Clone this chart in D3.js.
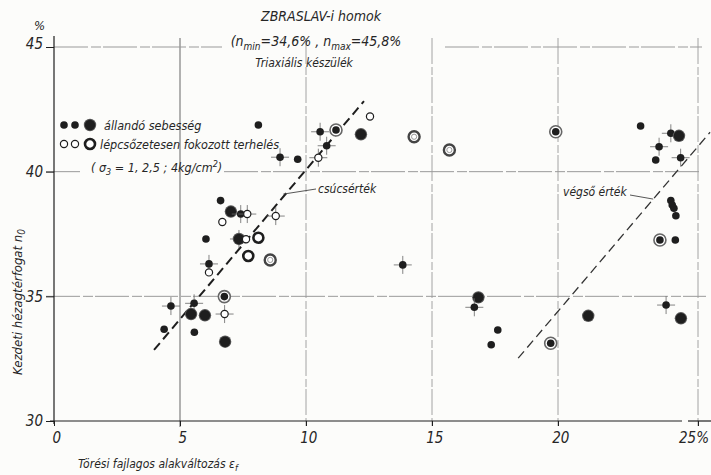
<!DOCTYPE html>
<html>
<head>
<meta charset="utf-8">
<script src="https://cdn.jsdelivr.net/npm/d3@7"></script>
<style>
  body { margin: 0; background: #fcfcfa; }
  svg text { font-family: "DejaVu Sans", sans-serif; font-stretch: condensed; font-style: italic; fill: #262626; }
</style>
</head>
<body>
<svg id="chart" width="711" height="475"></svg>
<script>
// tick values
var xTicks = [0, 5, 10, 15, 20, 25];
var yTicks = [30, 35, 40, 45];
var xGrid = [5, 10, 15, 20, 25];
var yGrid = [35, 40, 45];

// measured points: strain (%), initial porosity (%), marker kind, error cross
// kinds: s = small filled, l = large filled, o = small open, O = thick open ring,
//        R = double grey ring, d = ring with filled centre
var pointX = [6.61, 7.02, 7.41, 7.67, 6.68, 8.80, 6.03, 7.34, 7.62, 8.11, 7.71, 8.58, 6.15, 6.15,
              6.76, 4.64, 5.56, 5.44, 5.99, 6.77, 4.37, 5.57, 6.79, 8.11, 10.56, 11.19, 12.54, 12.18,
              14.29, 15.69, 10.82, 8.97, 9.67, 10.49, 19.91, 22.95, 24.03, 24.32, 23.61, 23.49, 24.38,
              24.03, 24.08, 24.14, 24.21, 23.64, 24.19, 16.84, 16.68, 17.61, 17.35, 19.71, 21.08, 23.86,
              24.39, 13.84];
var pointY = [38.84, 38.40, 38.30, 38.30, 37.98, 38.22, 37.30, 37.30, 37.29, 37.35, 36.62, 36.46, 36.30, 35.96,
              34.99, 34.61, 34.72, 34.29, 34.24, 34.29, 33.68, 33.56, 33.18, 41.87, 41.60, 41.67, 42.21, 41.50,
              41.40, 40.87, 41.04, 40.58, 40.50, 40.56, 41.60, 41.83, 41.54, 41.44, 41.00, 40.47, 40.56,
              38.84, 38.66, 38.53, 38.23, 37.26, 37.26, 34.96, 34.56, 33.65, 33.06, 33.12, 34.22, 34.65,
              34.12, 36.26];
var pointKind = ["s", "l", "s", "o", "o", "o", "s", "l", "o", "O", "O", "R", "s", "o",
                 "d", "s", "s", "l", "l", "o", "s", "s", "l", "s", "s", "d", "o", "l",
                 "R", "R", "s", "s", "s", "o", "d", "s", "s", "l", "s", "s", "s",
                 "s", "s", "s", "s", "d", "s", "l", "s", "s", "s", "d", "l", "s",
                 "l", "s"];
var pointCross = [0, 0, 1, 1, 0, 1, 0, 1, 0, 0, 0, 0, 1, 0,
                  0, 1, 1, 0, 0, 1, 0, 0, 0, 0, 1, 0, 0, 0,
                  0, 0, 1, 1, 0, 1, 0, 0, 1, 0, 1, 0, 1,
                  0, 0, 0, 0, 0, 0, 0, 1, 0, 0, 0, 0, 1,
                  0, 1];

// dashed trend lines
var peakLine = [[3.97, 32.85], [12.3, 42.83]];
var finalLine = [[18.42, 32.52], [25.43, 41.58]];

// legend rows
var legendFilled = ["s", "s", "l"];
var legendOpen = ["o", "o", "O"];

var svg = d3.select("#chart");
var ink = "#1e1e1e";
var grid = "#9a9a9a";

// hand drawn axis: last 5% interval is a bit wider on the sheet
var x = d3.scaleLinear().domain([0, 20, 25]).range([54, 558, 698]);
var y = d3.scaleLinear().domain([30, 45]).range([421, 47]);

// gridlines
var g = svg.append("g");
xGrid.forEach(function (d) {
    g.append("line")
        .attr("x1", x(d)).attr("x2", x(d))
        .attr("y1", 38).attr("y2", 427)
        .attr("stroke", d === 5 ? "#666" : grid)
        .attr("stroke-width", d === 5 ? 1 : 0.9)
        .attr("stroke-dasharray", d === 5 ? null : "26,3,8,2");
});
// gaps where text sits on the line
var gridSpans = {45: [[54, 222], [445, 702]], 40: [[46, 80], [224, 702]], 35: [[46, 706]]};
yGrid.forEach(function (d) {
    gridSpans[d].forEach(function (s) {
        g.append("line")
            .attr("x1", s[0]).attr("x2", s[1])
            .attr("y1", y(d)).attr("y2", y(d))
            .attr("stroke", grid)
            .attr("stroke-width", 1)
            .attr("stroke-dasharray", "34,3,10,2");
    });
});

// axes
svg.append("line").attr("x1", 54).attr("x2", 54).attr("y1", 36).attr("y2", 424)
    .attr("stroke", ink).attr("stroke-width", 1.2);
svg.append("line").attr("x1", 50).attr("x2", 682).attr("y1", y(30)).attr("y2", y(30))
    .attr("stroke", ink).attr("stroke-width", 1.2);
svg.append("line").attr("x1", 688).attr("x2", 711).attr("y1", y(30)).attr("y2", y(30))
    .attr("stroke", ink).attr("stroke-width", 1.2);

var xAxis = d3.axisBottom(x).tickValues(xTicks)
    .tickFormat(function (d) { return d === 25 ? "25%" : d; })
    .tickSize(5).tickPadding(6);
var xa = svg.append("g").attr("transform", "translate(0," + y(30) + ")").call(xAxis);
xa.select(".domain").remove();
xa.selectAll("line").attr("stroke", ink);
xa.selectAll("text").style("font-size", "15px")
    .attr("text-anchor", function (d) { return d === 25 ? "end" : "middle"; })
    .attr("dx", function (d) { return d === 25 ? "0.7em" : "0.15em"; });

var yAxis = d3.axisLeft(y).tickValues(yTicks).tickSize(8).tickPadding(3);
var ya = svg.append("g").attr("transform", "translate(54,0)").call(yAxis);
ya.select(".domain").remove();
ya.selectAll("line").attr("stroke", ink);
ya.selectAll("text").style("font-size", "15px")
    .attr("dy", function (d) { return d === 45 ? "0.1em" : "0.32em"; });
svg.append("text").attr("x", 45).attr("y", 30).attr("text-anchor", "end")
    .style("font-size", "13px").text("%");

// axis titles
var xt = svg.append("text").attr("x", 78).attr("y", 468).style("font-size", "12px")
    .text("Törési fajlagos alakváltozás ε");
xt.append("tspan").attr("dy", 3).style("font-size", "9px").text("f");

var yt = svg.append("text")
    .attr("transform", "translate(22,302) rotate(-90)")
    .attr("text-anchor", "middle").style("font-size", "13px")
    .text("Kezdeti hézagtérfogat n");
yt.append("tspan").attr("dy", 3).style("font-size", "10px").text("0");

// title block
svg.append("text").attr("x", 321).attr("y", 21).attr("text-anchor", "middle")
    .style("font-size", "14px").text("ZBRASLAV-i homok");
var t2 = svg.append("text").attr("x", 316).attr("y", 46).attr("text-anchor", "middle")
    .style("font-size", "14px");
t2.append("tspan").text("(n");
t2.append("tspan").attr("dy", 4).style("font-size", "10px").text("min");
t2.append("tspan").attr("dy", -4).text("=34,6% ,  n");
t2.append("tspan").attr("dy", 4).style("font-size", "10px").text("max");
t2.append("tspan").attr("dy", -4).text("=45,8%");
svg.append("text").attr("x", 304).attr("y", 67).attr("text-anchor", "middle")
    .style("font-size", "12px").text("Triaxiális készülék");

// trend lines
var line = d3.line().x(function (d) { return x(d[0]); }).y(function (d) { return y(d[1]); });
svg.append("path").attr("d", line(peakLine)).attr("fill", "none")
    .attr("stroke", ink).attr("stroke-width", 2).attr("stroke-dasharray", "9,5");
svg.append("path").attr("d", line(finalLine)).attr("fill", "none")
    .attr("stroke", "#333").attr("stroke-width", 1.3).attr("stroke-dasharray", "9,5");

// line labels with leaders
svg.append("path").attr("d", "M" + x(9.1) + "," + y(39.1) + " L316," + 189)
    .attr("stroke", "#444").attr("stroke-width", 0.9).attr("fill", "none");
svg.append("text").attr("x", 318).attr("y", 193).style("font-size", "12px").text("csúcsérték");
svg.append("path").attr("d", "M630,195 L" + x(23.4) + "," + y(38.9))
    .attr("stroke", "#444").attr("stroke-width", 0.9).attr("fill", "none");
svg.append("text").attr("x", 563).attr("y", 196).style("font-size", "12px").text("végső érték");

// markers
function drawMarker(sel, kind) {
    if (kind === "s") {
        sel.append("circle").attr("r", 3.8).attr("fill", ink);
    } else if (kind === "l") {
        sel.append("circle").attr("r", 6.2).attr("fill", "#555");
        sel.append("circle").attr("r", 5.2).attr("fill", ink);
    } else if (kind === "o") {
        sel.append("circle").attr("r", 3.6).attr("fill", "#fff").attr("stroke", ink).attr("stroke-width", 1.2);
    } else if (kind === "O") {
        sel.append("circle").attr("r", 5).attr("fill", "#fff").attr("stroke", ink).attr("stroke-width", 2.6);
    } else if (kind === "R") {
        sel.append("circle").attr("r", 5.5).attr("fill", "#fff").attr("stroke", "#444").attr("stroke-width", 2.4);
        sel.append("circle").attr("r", 2.6).attr("fill", "#fff").attr("stroke", "#999").attr("stroke-width", 1);
    } else if (kind === "d") {
        sel.append("circle").attr("r", 6).attr("fill", "#fff").attr("stroke", "#666").attr("stroke-width", 1.6);
        sel.append("circle").attr("r", 3.8).attr("fill", ink);
    }
}

var points = pointX.map(function (d, i) {
    return {x: d, y: pointY[i], kind: pointKind[i], cross: pointCross[i]};
});

var pts = svg.append("g").selectAll("g")
    .data(points)
    .enter()
    .append("g")
    .attr("transform", function (d) { return "translate(" + x(d.x) + "," + y(d.y) + ")"; });

pts.filter(function (d) { return d.cross; }).each(function () {
    var s = d3.select(this);
    s.append("line").attr("x1", -9).attr("x2", 9).attr("stroke", "#666").attr("stroke-width", 0.8);
    s.append("line").attr("y1", -9).attr("y2", 9).attr("stroke", "#666").attr("stroke-width", 0.8);
});
pts.each(function (d) { drawMarker(d3.select(this), d.kind); });

// legend
var legX = [64, 75, 90];
legendFilled.forEach(function (k, i) {
    drawMarker(svg.append("g").attr("transform", "translate(" + legX[i] + ",125)"), k);
});
legendOpen.forEach(function (k, i) {
    drawMarker(svg.append("g").attr("transform", "translate(" + legX[i] + ",144)"), k);
});
svg.append("text").attr("x", 104).attr("y", 130).style("font-size", "12.5px").text("állandó sebesség");
svg.append("text").attr("x", 100).attr("y", 149).style("font-size", "12.5px").text("lépcsőzetesen fokozott terhelés");
var lg3 = svg.append("text").attr("x", 91).attr("y", 172).style("font-size", "12.5px");
lg3.append("tspan").text("( σ");
lg3.append("tspan").attr("dy", 3).style("font-size", "9px").text("3");
lg3.append("tspan").attr("dy", -3).text(" = 1, 2,5 ; 4kg/cm");
lg3.append("tspan").attr("dy", -5).style("font-size", "9px").text("2");
lg3.append("tspan").attr("dy", 5).text(")");
</script>
</body>
</html>
